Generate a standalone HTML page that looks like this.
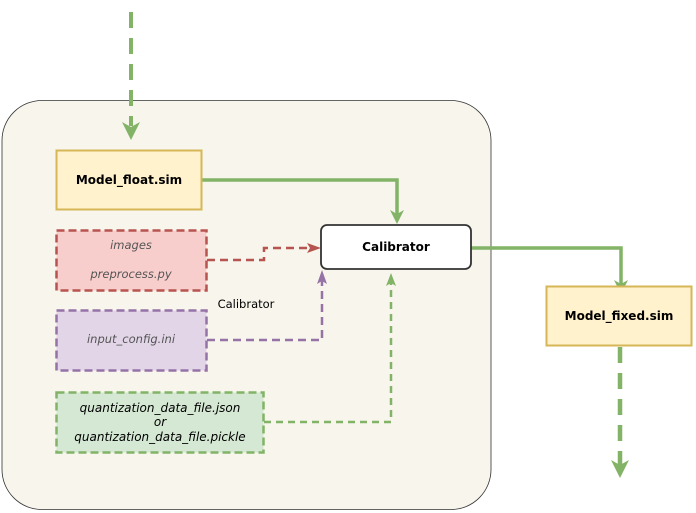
<!DOCTYPE html>
<html><head><meta charset="utf-8"><style>
html,body{margin:0;padding:0;background:#fff;}
svg{display:block;}
text{font-family:"DejaVu Sans","Liberation Sans",sans-serif;}
</style></head><body>
<svg width="696" height="513" viewBox="0 0 696 513" xmlns="http://www.w3.org/2000/svg">
<rect x="2" y="100.5" width="489" height="409" rx="40" fill="#f7f5ec" stroke="#333" stroke-width="0.8"/>
<line x1="131" y1="12" x2="131" y2="126" stroke="#82b366" stroke-width="4" stroke-dasharray="16,10"/>
<path d="M122,122 L131,140 L140,122 L131,127 z" fill="#82b366"/>
<path d="M202,180 L397,180 L397,214" fill="none" stroke="#82b366" stroke-width="3.5"/>
<path d="M390,210 L397,224 L404,210 L397,214 z" fill="#82b366"/>
<path d="M471,248 L621,248 L621,284" fill="none" stroke="#82b366" stroke-width="3.5"/>
<path d="M614,280 L621,294 L628,280 L621,284 z" fill="#82b366"/>
<line x1="620" y1="347" x2="620" y2="465" stroke="#82b366" stroke-width="4.5" stroke-dasharray="16,10"/>
<path d="M611,460 L620,478 L629,460 L620,465 z" fill="#82b366"/>
<path d="M207,260 L264,260 L264,248 L312,248" fill="none" stroke="#b85450" stroke-width="2.5" stroke-dasharray="8,5"/>
<path d="M307,243 L321,248 L307,253 L310,248 z" fill="#b85450"/>
<path d="M207,340 L322,340 L322,280" fill="none" stroke="#9673a6" stroke-width="2.5" stroke-dasharray="8,5"/>
<path d="M317,284 L322,270 L327,284 L322,281 z" fill="#9673a6"/>
<path d="M264,422 L391,422 L391,282" fill="none" stroke="#82b366" stroke-width="2.5" stroke-dasharray="7,5"/>
<path d="M386,286 L391,273 L396,286 L391,283 z" fill="#82b366"/>
<rect x="56.5" y="150.5" width="145" height="59" fill="#fff2cc" stroke="#d6b656" stroke-width="2"/>
<text x="129" y="184" font-size="12" font-weight="bold" text-anchor="middle">Model_float.sim</text>
<rect x="321" y="225" width="150" height="44" rx="6" fill="#fff" stroke="#333" stroke-width="1.8"/>
<text x="396" y="251" font-size="12" font-weight="bold" text-anchor="middle">Calibrator</text>
<rect x="546.5" y="286.5" width="145" height="59" fill="#fff2cc" stroke="#d6b656" stroke-width="2"/>
<text x="619" y="320" font-size="12" font-weight="bold" text-anchor="middle">Model_fixed.sim</text>
<rect x="56.5" y="230.5" width="150" height="60" fill="#f8cecc" stroke="#b85450" stroke-width="2.5" stroke-dasharray="8,4"/>
<text x="131" y="249" font-size="11.5" font-style="italic" fill="#555" text-anchor="middle">images</text>
<text x="131" y="278" font-size="11.5" font-style="italic" fill="#555" text-anchor="middle">preprocess.py</text>
<text x="246" y="308" font-size="11.5" text-anchor="middle">Calibrator</text>
<rect x="56.5" y="310.5" width="150" height="60" fill="#e1d5e7" stroke="#9673a6" stroke-width="2.5" stroke-dasharray="8,4"/>
<text x="131" y="343" font-size="11.5" font-style="italic" fill="#555" text-anchor="middle">input_config.ini</text>
<rect x="56.5" y="392.5" width="207" height="60" fill="#d5e8d4" stroke="#82b366" stroke-width="2.5" stroke-dasharray="8,4"/>
<text x="160" y="412" font-size="12" font-style="italic" text-anchor="middle">quantization_data_file.json</text>
<text x="160" y="426" font-size="12" font-style="italic" text-anchor="middle">or</text>
<text x="160" y="441" font-size="12" font-style="italic" text-anchor="middle">quantization_data_file.pickle</text>
</svg>
</body></html>
